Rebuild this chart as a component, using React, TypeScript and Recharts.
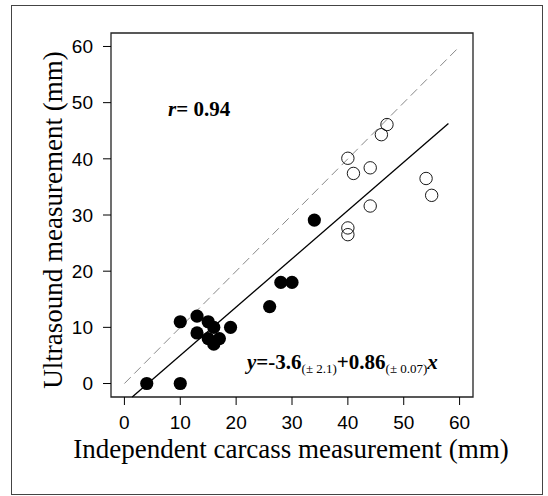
import { ScatterChart, Scatter, XAxis, YAxis, ReferenceLine, ReferenceArea } from "recharts";

// axis ticks
const xTicks = [0, 10, 20, 30, 40, 50, 60];
const yTicks = [0, 10, 20, 30, 40, 50, 60];

// filled points
const solidX = [4, 10, 10, 13, 13, 15, 16, 15, 16, 17, 19, 26, 28, 30, 34];
const solidY = [0, 0, 11, 12, 9, 11, 10, 8, 7, 8, 10, 13.7, 18, 18, 29.1];

// open points
const openX = [40, 41, 44, 46, 47, 54, 55, 44, 40, 40];
const openY = [40.1, 37.4, 38.4, 44.3, 46.1, 36.5, 33.5, 31.6, 27.7, 26.5];

// fitted line y = a + b x, drawn up to x = 58
const intercept = -3.6;
const slope = 0.86;
const fitEnd = 58;

const domain: [number, number] = [-2.4, 62.4];

const solidData = solidX.map((x, i) => ({ x, y: solidY[i] }));
const openData = openX.map((x, i) => ({ x, y: openY[i] }));

const fitStart = (domain[0] - intercept) / slope;

const SERIF = "'Liberation Serif', 'Times New Roman', serif";
const SANS = "'Liberation Sans', Arial, sans-serif";

const tickStyle = { fontSize: 19, fill: "#000", fontFamily: SANS };

export default function App() {
  return (
    <div style={{ position: "absolute", left: 0, top: 0, width: 548, height: 496, background: "#fff" }}>
      <div
        style={{
          position: "absolute",
          left: 11,
          top: 5,
          width: 532,
          height: 490,
          border: "1.5px solid #444",
          boxSizing: "border-box",
        }}
      />
      <div style={{ position: "absolute", left: 0, top: 0 }}>
        <ScatterChart width={548} height={496} margin={{ top: 33, right: 75, left: 0, bottom: 0 }}>
          <XAxis
            type="number"
            dataKey="x"
            domain={domain}
            ticks={xTicks}
            allowDataOverflow
            height={99}
            tickSize={8}
            tickMargin={11}
            tick={tickStyle}
            axisLine={false}
            tickLine={{ stroke: "#000" }}
          />
          <YAxis
            type="number"
            dataKey="y"
            domain={domain}
            ticks={yTicks}
            allowDataOverflow
            width={111}
            tickSize={8}
            tickMargin={10}
            tick={tickStyle}
            axisLine={false}
            tickLine={{ stroke: "#000" }}
          />
          <ReferenceArea
            x1={domain[0]}
            x2={domain[1]}
            y1={domain[0]}
            y2={domain[1]}
            fill="none"
            fillOpacity={0}
            stroke="#222"
            strokeWidth={1.3}
          />
          <ReferenceLine
            segment={[
              { x: 0, y: 0 },
              { x: 60, y: 60 },
            ]}
            stroke="#888"
            strokeWidth={1}
            strokeDasharray="9 5"
          />
          <ReferenceLine
            segment={[
              { x: fitStart, y: domain[0] },
              { x: fitEnd, y: intercept + slope * fitEnd },
            ]}
            stroke="#000"
            strokeWidth={1.3}
          />
          <Scatter
            data={solidData}
            isAnimationActive={false}
            shape={(p: any) => <circle cx={p.cx} cy={p.cy} r={6.6} fill="#000" />}
          />
          <Scatter
            data={openData}
            isAnimationActive={false}
            shape={(p: any) => (
              <circle cx={p.cx} cy={p.cy} r={6.2} fill="none" stroke="#000" strokeWidth={0.9} />
            )}
          />
        </ScatterChart>
      </div>
      <svg
        width={548}
        height={496}
        style={{ position: "absolute", left: 0, top: 0, pointerEvents: "none" }}
      >
        <text x={291} y={458} textAnchor="middle" fontSize={27} fontFamily={SERIF} fill="#000">
          Independent carcass measurement (mm)
        </text>
        <text
          transform="translate(62,220) rotate(-90)"
          textAnchor="middle"
          fontSize={27}
          fontFamily={SERIF}
          fill="#000"
        >
          Ultrasound measurement (mm)
        </text>
        <text x={168} y={116} fontSize={21} fontWeight="bold" fontFamily={SERIF} fill="#000">
          <tspan fontStyle="italic">r</tspan>= 0.94
        </text>
        <text x={247} y={369} fontSize={21} fontWeight="bold" fontFamily={SERIF} fill="#000">
          <tspan fontStyle="italic">y</tspan>
          <tspan>=-3.6</tspan>
          <tspan fontSize={13} fontWeight="normal" dy={4}>(± 2.1)</tspan>
          <tspan dy={-4}>+0.86</tspan>
          <tspan fontSize={13} fontWeight="normal" dy={4}>(± 0.07)</tspan>
          <tspan fontStyle="italic" dy={-4}>x</tspan>
        </text>
      </svg>
    </div>
  );
}
